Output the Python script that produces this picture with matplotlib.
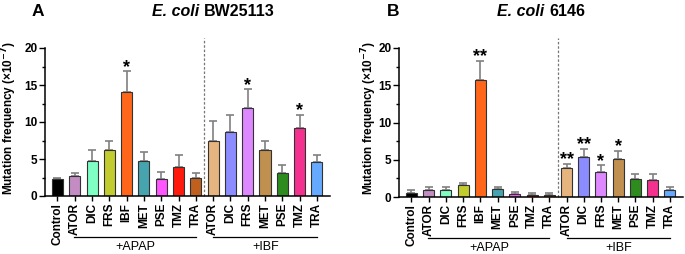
import matplotlib
matplotlib.use("Agg")
import matplotlib.pyplot as plt
import matplotlib.transforms as mtransforms
from matplotlib.ticker import MultipleLocator
import numpy as np

plt.rcParams['font.family'] = ['Liberation Sans', 'DejaVu Sans']

# categories
labels = ['Control', 'ATOR', 'DIC', 'FRS', 'IBF', 'MET', 'PSE', 'TMZ', 'TRA',
          'ATOR', 'DIC', 'FRS', 'MET', 'PSE', 'TMZ', 'TRA']
colors = ['#000000', '#C38DC3', '#7FFFC4', '#C2CC2E', '#FF661A', '#45A4AE',
          '#FF55FF', '#FF1A0D', '#C0601E',
          '#E6B47E', '#8C8CFF', '#DD88FF', '#C09050', '#2E8B1E', '#F5318F', '#66AAFF']

# panel A, E. coli BW25113 (mean, upper error)
vals_a = [2.25, 2.65, 4.7, 6.2, 14.0, 4.7, 2.35, 3.95, 2.4,
          7.4, 8.6, 11.85, 6.2, 3.1, 9.2, 4.55]
err_a = [0.25, 0.4, 1.55, 1.3, 2.85, 1.25, 0.95, 1.65, 0.65,
         2.8, 2.4, 2.55, 1.2, 1.1, 1.8, 1.05]
stars_a = {4: '*', 11: '*', 14: '*'}

# panel B, E. coli 6146
vals_b = [0.58, 0.94, 0.9, 1.6, 15.7, 1.07, 0.36, 0.27, 0.22,
          3.9, 5.37, 3.31, 5.06, 2.46, 2.24, 0.94]
err_b = [0.32, 0.4, 0.4, 0.25, 2.55, 0.27, 0.27, 0.23, 0.28,
         0.57, 1.07, 0.94, 1.11, 0.67, 0.8, 0.45]
stars_b = {4: '**', 9: '**', 10: '**', 11: '*', 12: '*'}

groups = [('+APAP', 0.95, 8.0), ('+IBF', 9.0, 15.0)]

fig = plt.figure(figsize=(6.85, 2.54), dpi=100)
W, H = 685., 254.
axA = fig.add_axes([45 / W, 1 - 196 / H, 285 / W, 148 / H])
axB = fig.add_axes([399 / W, 1 - 197 / H, 284 / W, 149 / H])


def draw(ax, vals, err, stars):
    x = np.arange(len(vals))
    ax.errorbar(x, vals, yerr=[np.zeros(len(vals)), err], fmt='none',
                ecolor='#808080', elinewidth=1.2, capsize=3.2, capthick=1.2, zorder=1)
    ax.bar(x, vals, width=0.64, color=colors, edgecolor='#333333', linewidth=0.8, zorder=2)
    for i, s in stars.items():
        ax.text(i, vals[i] + err[i] - 0.6, s, ha='center', va='bottom',
                fontsize=13, fontweight='bold')
    ax.axvline(8.5, ymin=0, ymax=1.07, color='#777777', lw=0.9, ls=(0, (2, 1.5)),
               clip_on=False)
    ax.set_xlim(-0.72, 15.76)
    ax.set_ylim(0, 20)
    ax.yaxis.set_major_locator(MultipleLocator(5))
    ax.yaxis.set_minor_locator(MultipleLocator(2.5))
    ax.set_xticks(x)
    ax.set_xticklabels(labels, rotation=90, fontsize=8.5, fontweight='bold')
    for t in ax.get_yticklabels():
        t.set_fontweight('bold')
    ax.tick_params(axis='y', labelsize=8.5, length=4, width=1, pad=1.5)
    ax.tick_params(axis='y', which='minor', length=2.5, width=1)
    ax.tick_params(axis='x', length=3.5, width=1, pad=1.5)
    for sp in ['top', 'right']:
        ax.spines[sp].set_visible(False)
    for sp in ['left', 'bottom']:
        ax.spines[sp].set_linewidth(1.1)
    trans = mtransforms.blended_transform_factory(ax.transData, ax.transAxes)
    for name, a, b in groups:
        ax.plot([a, b], [-0.275, -0.275], color='black', lw=0.9, transform=trans,
                clip_on=False)
        ax.text((a + b) / 2 + 0.05, -0.345, name, ha='center', va='center',
                fontsize=9, transform=trans)


draw(axA, vals_a, err_a, stars_a)
draw(axB, vals_b, err_b, stars_b)

ylab = 'Mutation frequency (×10$^{\\mathbf{-7}}$)'
fig.text(9 / W, 1 - 118 / H, ylab, rotation=90, ha='center', va='center',
         fontsize=8.5, fontweight='bold')
fig.text(369 / W, 1 - 118 / H, ylab, rotation=90, ha='center', va='center',
         fontsize=8.5, fontweight='bold')

# panel letters and titles
fig.text(32 / W, 1 - 11 / H, 'A', ha='left', va='center', fontsize=12.5, fontweight='bold')
fig.text(387 / W, 1 - 11 / H, 'B', ha='left', va='center', fontsize=12.5, fontweight='bold')
fig.text(204 / W, 1 - 11 / H, 'E. coli ', ha='right', va='center', fontsize=11.5,
         fontweight='bold', style='italic')
fig.text(204 / W, 1 - 11 / H, 'BW25113', ha='left', va='center', fontsize=11.5,
         fontweight='bold')
fig.text(549 / W, 1 - 11 / H, 'E. coli ', ha='right', va='center', fontsize=11.5,
         fontweight='bold', style='italic')
fig.text(549 / W, 1 - 11 / H, '6146', ha='left', va='center', fontsize=11.5,
         fontweight='bold')

fig.savefig('out.png', dpi=100)
